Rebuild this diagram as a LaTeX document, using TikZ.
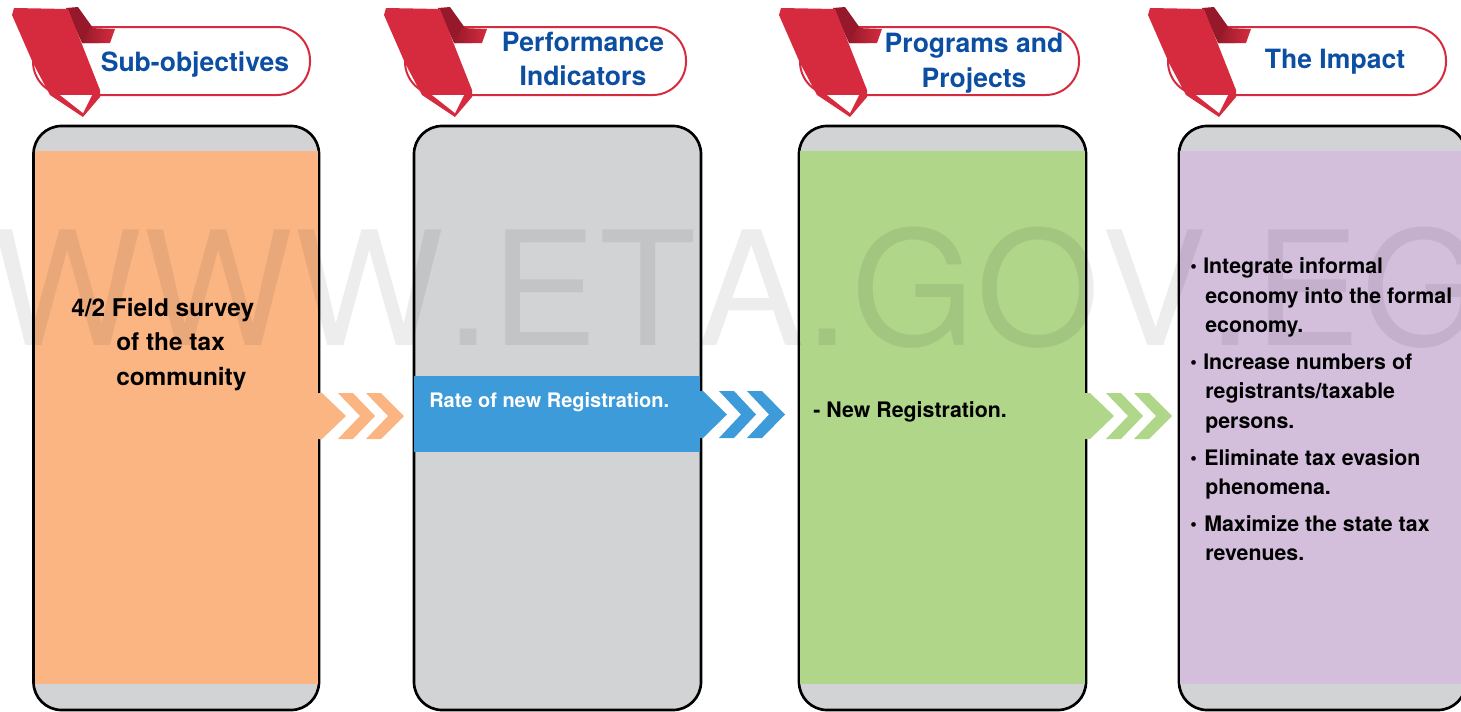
\documentclass[tikz,border=0pt]{standalone}
\usepackage{fontspec}
\setmainfont{TeX Gyre Heros}
\newfontfamily\markfont[Kerning=Off,LetterSpace=1]{TeX Gyre Heros}
\definecolor{ribred}{HTML}{D62B3F}
\definecolor{ribdark}{HTML}{96192B}
\definecolor{headblue}{HTML}{0B4EA2}
\definecolor{colgrey}{HTML}{D1D3D4}
\definecolor{colorange}{HTML}{FBB583}
\definecolor{colblue}{HTML}{3D9BD9}
\definecolor{colgreen}{HTML}{AFD689}
\definecolor{colpurple}{HTML}{D3BEDC}
\tikzset{
  x=0.75pt,y=-0.75pt,
  colbox/.style={draw=black,line width=2pt,fill=colgrey,rounded corners=21pt},
  pill/.style={draw=ribred,line width=1.5pt,fill=white,rounded corners=25pt},
  headtext/.style={font=\bfseries\fontsize{19.9pt}{26pt}\selectfont,text=headblue,inner sep=0pt,anchor=base},
  bodytext/.style={font=\bfseries\fontsize{18.3pt}{24pt}\selectfont,text=black,inner sep=0pt,anchor=base west},
  smalltext/.style={font=\bfseries\fontsize{16pt}{20pt}\selectfont,text=black,inner sep=0pt,anchor=base west},
  bulletmark/.style={font=\bfseries\fontsize{14pt}{14pt}\selectfont,text=black,inner sep=0pt,anchor=base west},
}
\newcommand{\ribbon}[1]{%
  \begin{scope}[xshift=#1*0.75pt]
    \fill[ribdark] (66,8) -- (78,7) -- (93,28) -- (100,43) -- (82,43) -- cycle;
    \shade[left color=ribdark,right color=ribred] (90,28) -- (115,29) -- (110,43) -- (82,43) -- cycle;
    \fill[ribred] (12,15) -- (14,8) -- (68,9) -- (100,90) -- (100,97) -- (83,117) -- (50,95) -- (33,63) -- cycle;
    \fill[white] (60,95) -- (92,95) -- (83,113) -- cycle;
  \end{scope}}
\newcommand{\chevrons}[4]{% x of start, y top, colour, y bottom
  \begin{scope}[xshift=#1*0.75pt]
    \fill[#3] (0,#2) -- (13,#2) -- (37,{(#2+#4)/2}) -- (13,#4) -- (0,#4) -- cycle;
    \fill[#3] (29,#2) -- (44,#2) -- (66,{(#2+#4)/2}) -- (44,#4) -- (29,#4) -- (51,{(#2+#4)/2}) -- cycle;
    \fill[#3] (57,#2) -- (72,#2) -- (95,{(#2+#4)/2}) -- (72,#4) -- (57,#4) -- (79,{(#2+#4)/2}) -- cycle;
  \end{scope}}
\begin{document}
\begin{tikzpicture}
\useasboundingbox (0,0) rectangle (1461,711);
\clip (0,0) rectangle (1461,711);
% columns
\draw[colbox] (33.5,126) rectangle (319,710);
\draw[colbox] (414,126) rectangle (701,710);
\draw[colbox] (799,126) rectangle (1086,710);
\draw[colbox] (1179,126) rectangle (1466,710);
\fill[colorange] (34.7,151) rectangle (317.7,684);
\fill[colgreen] (800.2,151) rectangle (1084.8,684);
\fill[colpurple] (1180.2,151) rectangle (1461,684);
\fill[colblue] (414,376) rectangle (700,452);
% banners
\draw[pill] (33,27) rectangle (310,95);
\draw[pill] (405,27) rectangle (686,95);
\draw[pill] (800,27) rectangle (1079,95);
\draw[pill] (1168,27) rectangle (1446,95);
\ribbon{0}\ribbon{372}\ribbon{767}\ribbon{1136}
% chevrons
\chevrons{309}{393}{colorange}{439}
\chevrons{690}{391}{colblue}{438}
\chevrons{1077}{393}{colgreen}{439}
% watermark
\node[inner sep=0pt,anchor=base west,font=\markfont\fontsize{119pt}{120pt}\selectfont,text=black,text opacity=0.07] (mark) at (-8,345) {WWW.ETA.GOV.EG};
% headers
\node[headtext] (h1) at (195,71) {Sub-objectives};
\node[headtext] (h2a) at (583,51) {Performance};
\node[headtext] (h2b) at (583,85) {Indicators};
\node[headtext] (h3a) at (974,52) {Programs and};
\node[headtext] (h3b) at (974,87) {Projects};
\node[headtext] (h4) at (1335,68) {The Impact};
% column text
\node[bodytext] (a1) at (71,316) {4/2 Field survey};
\node[bodytext] (a2) at (116,350) {of the tax};
\node[bodytext] (a3) at (116,385) {community};
\node[smalltext,text=white,font=\bfseries\fontsize{15pt}{20pt}\selectfont] (b1) at (429,407) {Rate of new Registration.};
\node[smalltext] (c1) at (813,417) {- New Registration.};
\node[bulletmark] (d0) at (1190,272) {•};
\node[smalltext] (d1) at (1203,273) {Integrate informal};
\node[smalltext] (d2) at (1205,303) {economy into the formal};
\node[smalltext] (d3) at (1205,332) {economy.};
\node[bulletmark] (e0) at (1190,368) {•};
\node[smalltext] (e1) at (1203,369) {Increase numbers of};
\node[smalltext] (e2) at (1205,398) {registrants/taxable};
\node[smalltext] (e3) at (1205,428) {persons.};
\node[bulletmark] (f0) at (1190,464) {•};
\node[smalltext] (f1) at (1204,465) {Eliminate tax evasion};
\node[smalltext] (f2) at (1205,494) {phenomena.};
\node[bulletmark] (g0) at (1190,530) {•};
\node[smalltext] (g1) at (1204,531) {Maximize the state tax};
\node[smalltext] (g2) at (1205,560) {revenues.};
\end{tikzpicture}
\end{document}
